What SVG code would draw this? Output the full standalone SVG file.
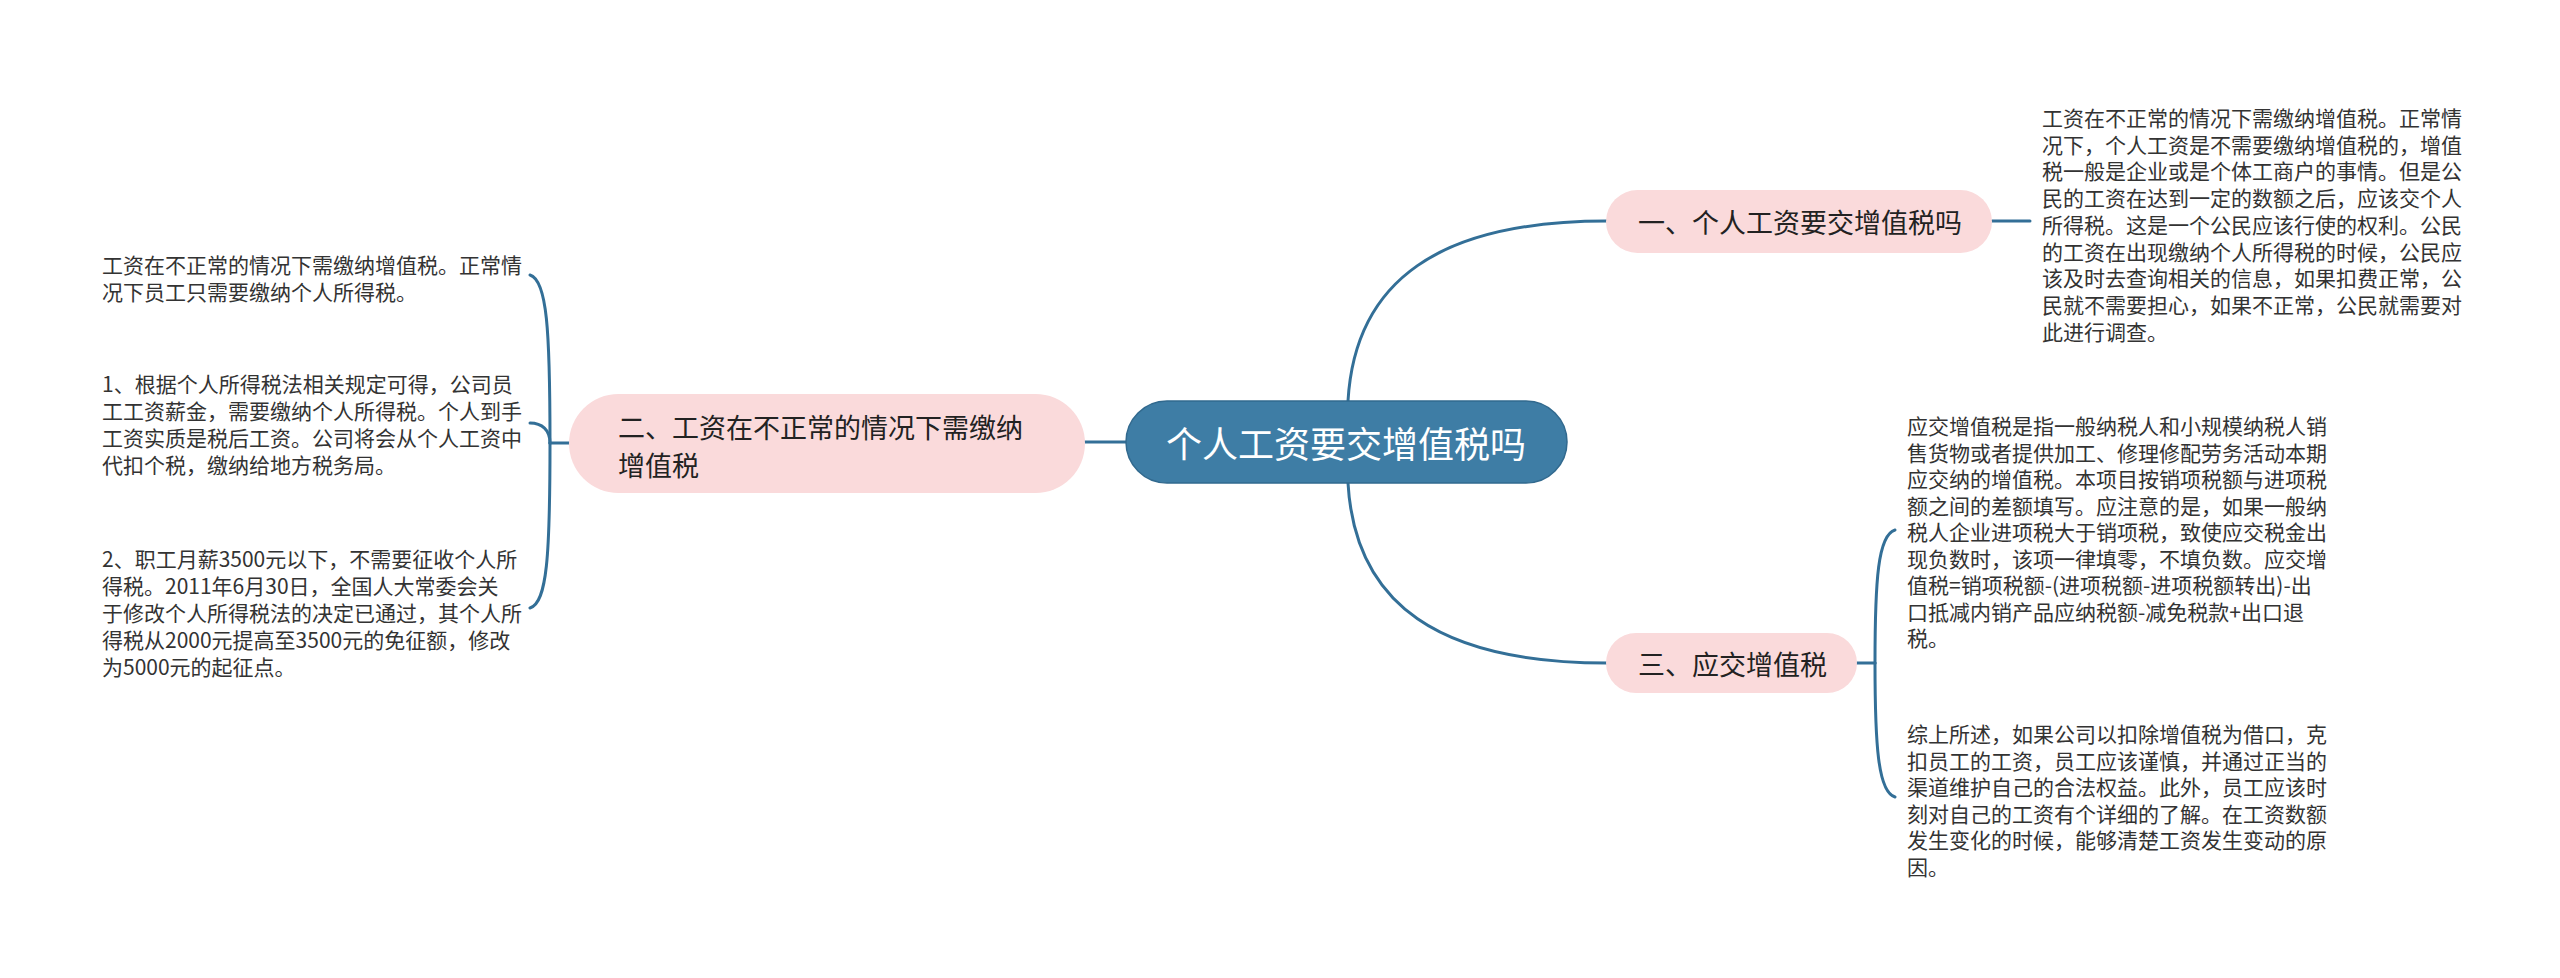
<svg xmlns="http://www.w3.org/2000/svg" width="2560" height="978" viewBox="0 0 2560 978">
<style>
.bg{fill:#ffffff}
.conn{fill:none;stroke:#336f97;stroke-width:3;stroke-linecap:round}
.root{fill:#3e7da5;stroke:#31698e;stroke-width:1.5}
.sub{fill:#fadadb}
.t{font-family:"Noto Sans CJK SC","Microsoft YaHei","Liberation Sans",sans-serif;dominant-baseline:central}
.rootT{font-size:36px;fill:#ffffff}
.subT{font-size:27px;fill:#222222}
.body{font-size:21px;fill:#333333}
</style>
<rect class="bg" x="0" y="0" width="2560" height="978"/>
<g id="connectors">
<path class="conn" d="M1348,401 C1355,280 1440,221 1607,221"/>
<path class="conn" d="M1348,483 C1355,605 1440,663 1607,663"/>
<path class="conn" d="M1126,442 L1084,442"/>
<path class="conn" d="M1992,221 L2030,221"/>
<path class="conn" d="M1857,663 L1875,663"/>
<path class="conn" d="M1875,663 C1875,580 1878,535 1895,530"/>
<path class="conn" d="M1875,663 C1875,745 1878,792 1895,797"/>
<path class="conn" d="M569,443 L550,443"/>
<path class="conn" d="M550,443 C550,330 547,280 530,275"/>
<path class="conn" d="M550,443 C550,556 547,603 530,608"/>
<path class="conn" d="M550,443 C550,430 542,423 530,423"/>
</g>
<g id="root">
<rect class="root" x="1126" y="401" width="441" height="82" rx="41"/>
<text class="t rootT" x="1346" y="442" text-anchor="middle">个人工资要交增值税吗</text>
</g>
<g id="node1">
<rect class="sub" x="1606" y="190" width="386" height="63" rx="31.5"/>
<text class="t subT" x="1638" y="221">一、个人工资要交增值税吗</text>
</g>
<g id="node2">
<rect class="sub" x="569" y="394" width="516" height="99" rx="49.5"/>
<text class="t subT"><tspan x="618" y="426">二、工资在不正常的情况下需缴纳</tspan><tspan x="618" y="464">增值税</tspan></text>
</g>
<g id="node3">
<rect class="sub" x="1606" y="633" width="251" height="60" rx="30"/>
<text class="t subT" x="1638" y="663">三、应交增值税</text>
</g>
<g id="text-r1">
<text class="t body"><tspan x="2042" y="117">工资在不正常的情况下需缴纳增值税。正常情</tspan><tspan x="2042" y="143.7">况下，个人工资是不需要缴纳增值税的，增值</tspan><tspan x="2042" y="170.4">税一般是企业或是个体工商户的事情。但是公</tspan><tspan x="2042" y="197.1">民的工资在达到一定的数额之后，应该交个人</tspan><tspan x="2042" y="223.8">所得税。这是一个公民应该行使的权利。公民</tspan><tspan x="2042" y="250.5">的工资在出现缴纳个人所得税的时候，公民应</tspan><tspan x="2042" y="277.2">该及时去查询相关的信息，如果扣费正常，公</tspan><tspan x="2042" y="303.9">民就不需要担心，如果不正常，公民就需要对</tspan><tspan x="2042" y="330.6">此进行调查。</tspan></text>
</g>
<g id="text-r2">
<text class="t body"><tspan x="1907" y="425">应交增值税是指一般纳税人和小规模纳税人销</tspan><tspan x="1907" y="451.5">售货物或者提供加工、修理修配劳务活动本期</tspan><tspan x="1907" y="478">应交纳的增值税。本项目按销项税额与进项税</tspan><tspan x="1907" y="504.5">额之间的差额填写。应注意的是，如果一般纳</tspan><tspan x="1907" y="531">税人企业进项税大于销项税，致使应交税金出</tspan><tspan x="1907" y="557.5">现负数时，该项一律填零，不填负数。应交增</tspan><tspan x="1907" y="584">值税=销项税额-(进项税额-进项税额转出)-出</tspan><tspan x="1907" y="610.5">口抵减内销产品应纳税额-减免税款+出口退</tspan><tspan x="1907" y="637">税。</tspan></text>
</g>
<g id="text-r3">
<text class="t body"><tspan x="1907" y="733">综上所述，如果公司以扣除增值税为借口，克</tspan><tspan x="1907" y="759.5">扣员工的工资，员工应该谨慎，并通过正当的</tspan><tspan x="1907" y="786">渠道维护自己的合法权益。此外，员工应该时</tspan><tspan x="1907" y="812.5">刻对自己的工资有个详细的了解。在工资数额</tspan><tspan x="1907" y="839">发生变化的时候，能够清楚工资发生变动的原</tspan><tspan x="1907" y="865.5">因。</tspan></text>
</g>
<g id="text-l1">
<text class="t body"><tspan x="102" y="264">工资在不正常的情况下需缴纳增值税。正常情</tspan><tspan x="102" y="291">况下员工只需要缴纳个人所得税。</tspan></text>
</g>
<g id="text-l2">
<text class="t body"><tspan x="102" y="383">1、根据个人所得税法相关规定可得，公司员</tspan><tspan x="102" y="410">工工资薪金，需要缴纳个人所得税。个人到手</tspan><tspan x="102" y="437">工资实质是税后工资。公司将会从个人工资中</tspan><tspan x="102" y="464">代扣个税，缴纳给地方税务局。</tspan></text>
</g>
<g id="text-l3">
<text class="t body"><tspan x="102" y="558">2、职工月薪3500元以下，不需要征收个人所</tspan><tspan x="102" y="585">得税。2011年6月30日，全国人大常委会关</tspan><tspan x="102" y="612">于修改个人所得税法的决定已通过，其个人所</tspan><tspan x="102" y="639">得税从2000元提高至3500元的免征额，修改</tspan><tspan x="102" y="666">为5000元的起征点。</tspan></text>
</g>
</svg>
